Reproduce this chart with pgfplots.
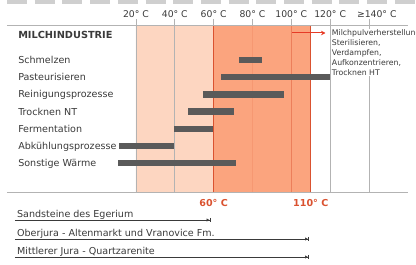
\documentclass[border=0pt]{standalone}
\usepackage{pgfplots}
\pgfplotsset{compat=1.18}
\usepackage{fontspec}
\setmainfont{DejaVu Sans}
\usetikzlibrary{arrows.meta}
\definecolor{pale}{HTML}{FDD6C1}
\definecolor{orng}{HTML}{FBA47E}
\definecolor{redl}{HTML}{DA5230}
\definecolor{redarrow}{HTML}{E63B26}
\definecolor{barc}{HTML}{5A5A5A}
\definecolor{txt}{HTML}{3A3A3A}
\definecolor{gridg}{HTML}{B3B3B3}
\definecolor{topg}{HTML}{CFCFCF}
\newcommand{\lab}{\fontsize{9.6}{11}\selectfont}
\newcommand{\tk}{\fontsize{9.3}{11}\selectfont}
\begin{document}
\begin{tikzpicture}
\path[use as bounding box] (0,0) rectangle (416bp,265bp);
\clip (0,0) rectangle (416bp,265bp);
\draw[topg, line width=4bp, dash pattern=on 20bp off 7.7bp] (7bp,263bp) -- (416bp,263bp);
\begin{axis}[at={(0,0)}, anchor=south west, scale only axis,
  width=416bp, height=265bp,
  xmin=-50, xmax=164.2, ymin=0, ymax=265, y dir=reverse,
  hide axis, clip=false]
% temperature zones
\addplot[fill=pale, draw=none] coordinates {(20,26) (60,26) (60,192) (20,192) (20,26)};
\addplot[fill=orng, draw=none] coordinates {(60,26) (110,26) (110,192) (60,192) (60,26)};
% tick marks and grid lines
\addplot[gridg, line width=0.8bp] coordinates {(20,19) (20,192)};
\addplot[gridg, line width=0.8bp] coordinates {(40,19) (40,192)};
\addplot[gridg, line width=0.8bp] coordinates {(60,19) (60,26)};
\addplot[gridg, line width=0.8bp] coordinates {(80,19) (80,26)};
\addplot[gridg, line width=0.8bp] coordinates {(100,19) (100,26)};
\addplot[gridg, line width=0.8bp] coordinates {(120,19) (120,192)};
\addplot[gridg, line width=0.8bp] coordinates {(140,19) (140,192)};
\addplot[orng!85!redl, line width=0.7bp] coordinates {(80,26) (80,192)};
\addplot[orng!55!redl, line width=0.8bp] coordinates {(100,26) (100,192)};
\addplot[redl, line width=1.4bp] coordinates {(60,26) (60,192)};
\addplot[redl, line width=1.4bp] coordinates {(110,26) (110,192)};
% horizontal frame lines
\addplot[gridg, line width=1bp] coordinates {(-46.4,26) (160.1,26)};
\addplot[gridg, line width=1bp] coordinates {(-46.4,192) (160.1,192)};
% tick labels
\node[font=\tk, text=txt, anchor=base] at (axis cs:20,17.5) {20° C};
\node[font=\tk, text=txt, anchor=base] at (axis cs:40,17.5) {40° C};
\node[font=\tk, text=txt, anchor=base] at (axis cs:60,17.5) {60° C};
\node[font=\tk, text=txt, anchor=base] at (axis cs:80,17.5) {80° C};
\node[font=\tk, text=txt, anchor=base] at (axis cs:100,17.5) {100° C};
\node[font=\tk, text=txt, anchor=base] at (axis cs:120,17.5) {120° C};
\node[font=\tk, text=txt, anchor=base] at (axis cs:144,17.5) {≥140° C};
% arrow and note
\addplot[redarrow, line width=1bp, -{Stealth[length=4.5pt,width=4.5pt]}] coordinates {(100.4,33) (117.6,33)};
\node[anchor=north west, fill=white, inner sep=1pt, align=left, text=txt,
  font=\fontsize{7.8}{9.9}\selectfont] at (axis cs:120.3,28.5)
  {Milchpulverherstellung\\Sterilisieren,\\Verdampfen,\\Aufkonzentrieren,\\Trocknen HT};
% category labels
\node[anchor=west, font=\fontsize{9.8}{11}\selectfont\bfseries, text=txt, inner sep=0pt] at (axis cs:-40.7,35) {MILCHINDUSTRIE};
\node[anchor=west, font=\lab, text=txt, inner sep=0pt, text height=1.6ex, text depth=.3ex] at (axis cs:-40.7,60) {Schmelzen};
\node[anchor=west, font=\lab, text=txt, inner sep=0pt, text height=1.6ex, text depth=.3ex] at (axis cs:-40.7,77.2) {Pasteurisieren};
\node[anchor=west, font=\lab, text=txt, inner sep=0pt, text height=1.6ex, text depth=.3ex] at (axis cs:-40.7,94.4) {Reinigungsprozesse};
\node[anchor=west, font=\lab, text=txt, inner sep=0pt, text height=1.6ex, text depth=.3ex] at (axis cs:-40.7,111.6) {Trocknen NT};
\node[anchor=west, font=\lab, text=txt, inner sep=0pt, text height=1.6ex, text depth=.3ex] at (axis cs:-40.7,128.8) {Fermentation};
\node[anchor=west, font=\lab, text=txt, inner sep=0pt, text height=1.6ex, text depth=.3ex] at (axis cs:-40.7,146) {Abkühlungsprozesse};
\node[anchor=west, font=\lab, text=txt, inner sep=0pt, text height=1.6ex, text depth=.3ex] at (axis cs:-40.7,163.2) {Sonstige Wärme};
% bars (temperature ranges)
\addplot[barc, line width=6.5bp] coordinates {(73,60) (85,60)};
\addplot[barc, line width=6.5bp] coordinates {(64,77.2) (120,77.2)};
\addplot[barc, line width=6.5bp] coordinates {(54.5,94.4) (96,94.4)};
\addplot[barc, line width=6.5bp] coordinates {(47,111.6) (70.5,111.6)};
\addplot[barc, line width=6.5bp] coordinates {(39.6,128.8) (59.7,128.8)};
\addplot[barc, line width=6.5bp] coordinates {(11.3,146) (39.6,146)};
\addplot[barc, line width=6.5bp] coordinates {(10.8,163.2) (71.5,163.2)};
% zone limits
\node[anchor=base, font=\lab\bfseries, text=redl] at (axis cs:60,206) {60° C};
\node[anchor=base, font=\lab\bfseries, text=redl] at (axis cs:110,206) {110° C};
% aquifers
\node[anchor=base west, font=\lab, text=txt, inner sep=0pt] at (axis cs:-41.3,217.5) {Sandsteine des Egerium};
\node[anchor=base west, font=\lab, text=txt, inner sep=0pt] at (axis cs:-41.3,236) {Oberjura - Altenmarkt und Vranovice Fm.};
\node[anchor=base west, font=\lab, text=txt, inner sep=0pt] at (axis cs:-41.3,254) {Mittlerer Jura - Quartzarenite};
\addplot[txt, line width=0.8bp, -{Latex[length=3pt,width=3.5pt]Bar[width=4.5pt]}] coordinates {(-42.3,220) (58.3,220)};
\addplot[txt, line width=0.8bp, -{Latex[length=3pt,width=3.5pt]Bar[width=4.5pt]}] coordinates {(-42.3,239) (109,239)};
\addplot[txt, line width=0.8bp, -{Latex[length=3pt,width=3.5pt]Bar[width=4.5pt]}] coordinates {(-42.3,257) (109,257)};
\end{axis}
\end{tikzpicture}
\end{document}
